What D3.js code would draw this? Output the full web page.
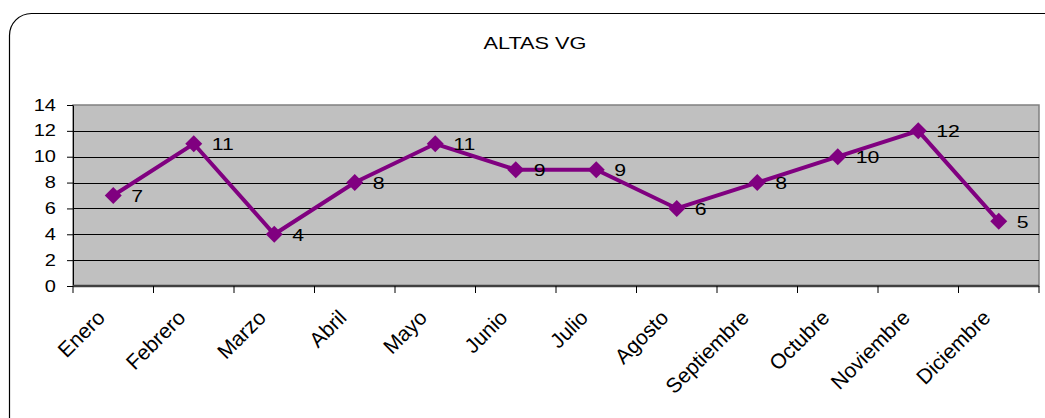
<!DOCTYPE html>
<html><head><meta charset="utf-8">
<script src="https://cdn.jsdelivr.net/npm/d3@7/dist/d3.min.js"></script>
<style>body{margin:0;background:#fff}svg{display:block}text{font-family:"Liberation Sans",Arial,sans-serif;fill:#000}</style>
</head><body>
<script>
const categories = ["Enero","Febrero","Marzo","Abril","Mayo","Junio","Julio","Agosto","Septiembre","Octubre","Noviembre","Diciembre"];
const values = [7,11,4,8,11,9,9,6,8,10,12,5];
const yTicks = [0,2,4,6,8,10,12,14];
const title = "ALTAS VG";

const W = 1045, H = 418;
const m = {left:73, right:1039, top:105, bottom:286};
const svg = d3.select("body").append("svg").attr("width",W).attr("height",H);

svg.append("rect").attr("x",9.5).attr("y",13.5).attr("width",1060).attr("height",430)
  .attr("rx",22).attr("fill","#fff").attr("stroke","#000").attr("stroke-width",1.2);

svg.append("text").attr("x",535).attr("y",49).attr("text-anchor","middle")
  .attr("font-size",16.5).attr("textLength",103).attr("lengthAdjust","spacingAndGlyphs").text(title);

const x = d3.scaleBand().domain(categories).range([m.left,m.right]);
const y = d3.scaleLinear().domain([0,14]).range([m.bottom,m.top]);

svg.append("rect").attr("x",m.left).attr("y",m.top).attr("width",m.right-m.left).attr("height",m.bottom-m.top)
  .attr("fill","#C0C0C0").attr("stroke","#808080").attr("stroke-width",1.5);

svg.append("g").selectAll("line").data(yTicks.filter(d=>d>0&&d<14)).join("line")
  .attr("x1",m.left).attr("x2",m.right).attr("y1",d=>Math.round(y(d))+0.5).attr("y2",d=>Math.round(y(d))+0.5)
  .attr("stroke","#000").attr("stroke-width",1);

// y axis
const ya = svg.append("g").attr("transform",`translate(${m.left},0)`)
  .call(d3.axisLeft(y).tickValues(yTicks).tickSize(6).tickPadding(8).tickSizeOuter(0));
ya.select(".domain").attr("stroke","#000");
ya.selectAll("text").attr("font-size",16).attr("x",-13.6).attr("transform","scale(1.25,1)")
  .style("font-family","Liberation Sans, Arial, sans-serif");

// x axis
const xa = svg.append("g").attr("transform",`translate(0,${m.bottom})`);
xa.append("line").attr("x1",m.left).attr("x2",m.right).attr("stroke","#404040").attr("stroke-width",2.5);
const bounds = categories.map(c=>x(c)).concat([m.right]);
xa.selectAll("line.t").data(bounds).join("line").attr("class","t")
  .attr("x1",d=>d).attr("x2",d=>d).attr("y1",0).attr("y2",7).attr("stroke","#000");
xa.selectAll("text").data(categories).join("text")
  .attr("text-anchor","end").attr("font-size",21)
  .attr("transform",d=>`translate(${x(d)+x.bandwidth()/2-7},${33}) rotate(-45)`)
  .text(d=>d);

const cx = (d,i)=>x(categories[i])+x.bandwidth()/2;
const line = d3.line().x((d,i)=>cx(d,i)).y(d=>y(d));
svg.append("path").datum(values).attr("d",line).attr("fill","none")
  .attr("stroke","#800080").attr("stroke-width",4).attr("stroke-linejoin","miter");

const r = 8.5;
svg.append("g").selectAll("path").data(values).join("path")
  .attr("d",(d,i)=>{const X=cx(d,i),Y=y(d);return `M${X},${Y-r}L${X+r},${Y}L${X},${Y+r}L${X-r},${Y}Z`;})
  .attr("fill","#800080");

svg.append("g").selectAll("text").data(values).join("text")
  .attr("transform",(d,i)=>`translate(${cx(d,i)+18},${y(d)+6.5}) scale(1.25,1)`)
  .attr("font-size",17).text(d=>d);
</script>
</body></html>
